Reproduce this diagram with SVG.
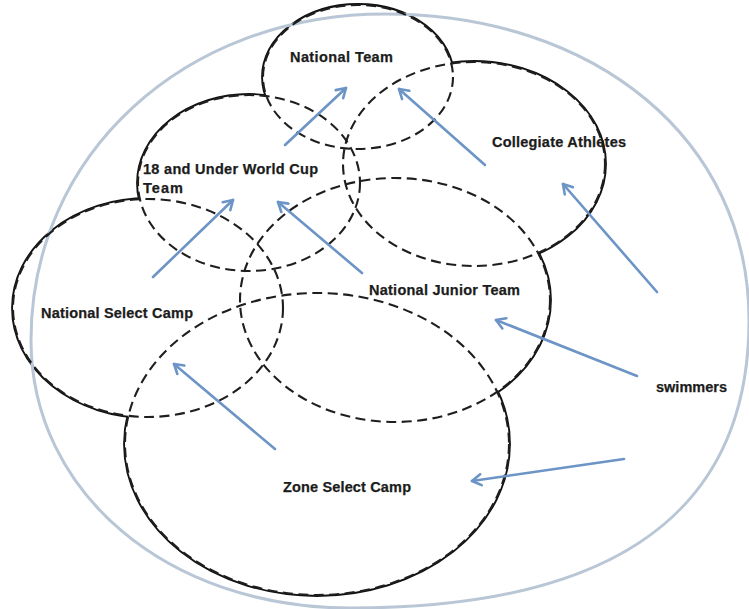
<svg xmlns="http://www.w3.org/2000/svg" xmlns:xlink="http://www.w3.org/1999/xlink" width="749" height="609" viewBox="0 0 749 609">
  <style>
    .solid { fill: none; stroke: #111; stroke-width: 3.8; }
    .blank { fill: #fff; stroke: none; }
    .dash { fill: none; stroke: #1e1e1e; stroke-width: 2.1; stroke-dasharray: 10 5.5; }
    .outer { fill: none; stroke: #b8c6d6; stroke-width: 3; }
    .lbl { font-family: "Liberation Sans", Arial, sans-serif; font-weight: bold; font-size: 14.5px; fill: #1c1c1c; stroke: #1c1c1c; stroke-width: 0.25; }
    .arrow { fill: none; stroke: #6c94c6; stroke-width: 2.6; stroke-linecap: round; marker-end: url(#head); }
  </style>
  <defs>
    <marker id="head" markerUnits="userSpaceOnUse" markerWidth="14" markerHeight="14" refX="11" refY="7" orient="auto">
      <path d="M2,1.5 L11,7 L2,12.5" fill="none" stroke="#6c94c6" stroke-width="2.6" stroke-linecap="round" stroke-linejoin="round"/>
    </marker>
    <ellipse id="e-nt" cx="358" cy="77" rx="95" ry="72"/>
    <ellipse id="e-u18" cx="249" cy="183" rx="111" ry="88"/>
    <ellipse id="e-ca" cx="474" cy="164" rx="131" ry="102"/>
    <ellipse id="e-njt" cx="395" cy="300" rx="155" ry="122"/>
    <ellipse id="e-nsc" cx="148" cy="308" rx="135" ry="109"/>
    <ellipse id="e-zsc" cx="317" cy="444" rx="192" ry="151"/>
  </defs>
  <rect width="749" height="609" fill="#fff"/>

  <g id="union-outline">
    <use xlink:href="#e-nt" class="solid"/>
    <use xlink:href="#e-u18" class="solid"/>
    <use xlink:href="#e-ca" class="solid"/>
    <use xlink:href="#e-njt" class="solid"/>
    <use xlink:href="#e-nsc" class="solid"/>
    <use xlink:href="#e-zsc" class="solid"/>
    <use xlink:href="#e-nt" class="blank"/>
    <use xlink:href="#e-u18" class="blank"/>
    <use xlink:href="#e-ca" class="blank"/>
    <use xlink:href="#e-njt" class="blank"/>
    <use xlink:href="#e-nsc" class="blank"/>
    <use xlink:href="#e-zsc" class="blank"/>
  </g>

  <g id="swimmers-boundary">
    <path class="outer" d="M31,340 C31,155 184,14 385,14 C596,14 749,140 749,320 C749,529 590,608 350,608 C168,608 31,493 31,340 Z"/>
  </g>

  <g id="national-team">
    <use xlink:href="#e-nt" class="dash"/>
    <text class="lbl" x="290" y="62" textLength="103">National Team</text>
  </g>
  <g id="u18-world-cup-team">
    <use xlink:href="#e-u18" class="dash"/>
    <text class="lbl" x="143" y="174" textLength="175">18 and Under World Cup</text>
    <text class="lbl" x="143" y="193" textLength="40">Team</text>
  </g>
  <g id="collegiate-athletes">
    <use xlink:href="#e-ca" class="dash"/>
    <text class="lbl" x="492" y="147" textLength="134">Collegiate Athletes</text>
  </g>
  <g id="national-junior-team">
    <use xlink:href="#e-njt" class="dash"/>
    <text class="lbl" x="369" y="295" textLength="151">National Junior Team</text>
  </g>
  <g id="national-select-camp">
    <use xlink:href="#e-nsc" class="dash"/>
    <text class="lbl" x="41" y="318" textLength="152">National Select Camp</text>
  </g>
  <g id="zone-select-camp">
    <use xlink:href="#e-zsc" class="dash"/>
    <text class="lbl" x="283" y="492" textLength="128">Zone Select Camp</text>
  </g>
  <g id="swimmers">
    <text class="lbl" x="656" y="392" textLength="71">swimmers</text>
  </g>

  <g id="connectors">
    <line class="arrow" x1="285" y1="145" x2="346" y2="88"/>
    <line class="arrow" x1="485" y1="165" x2="399" y2="89"/>
    <line class="arrow" x1="657" y1="292" x2="563" y2="184"/>
    <line class="arrow" x1="153" y1="277" x2="233" y2="200"/>
    <line class="arrow" x1="362" y1="273" x2="278" y2="202"/>
    <line class="arrow" x1="637" y1="376" x2="496" y2="320"/>
    <line class="arrow" x1="275" y1="449" x2="174" y2="364"/>
    <line class="arrow" x1="624" y1="459" x2="472" y2="481"/>
  </g>
</svg>
